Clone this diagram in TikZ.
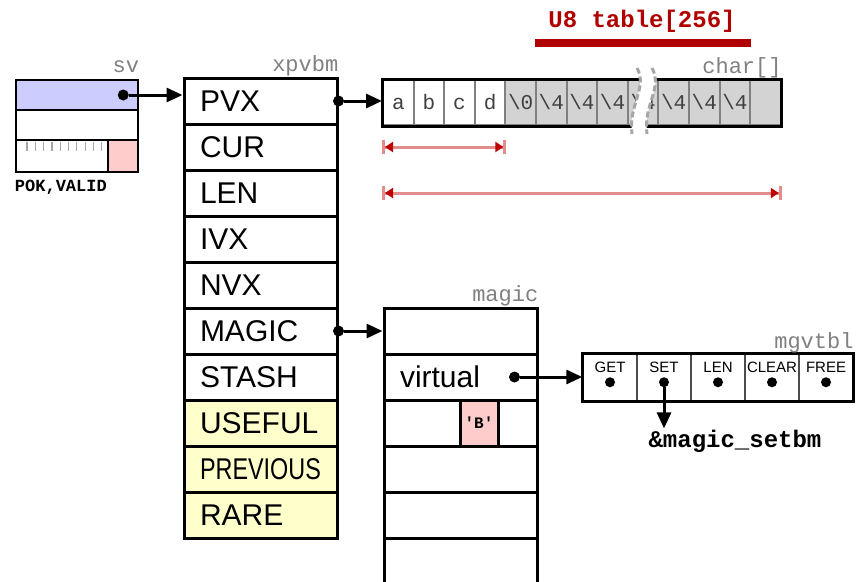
\documentclass[tikz,border=0pt]{standalone}
\usepackage{fontspec}
\setmainfont{Liberation Sans}
\newfontfamily\codefont{Liberation Mono}
\usetikzlibrary{arrows.meta}

\definecolor{svblue}{RGB}{204,204,255}
\definecolor{flagpink}{RGB}{255,204,204}
\definecolor{rareyellow}{RGB}{255,255,204}
\definecolor{cellgray}{RGB}{211,211,211}
\definecolor{dimred}{RGB}{226,140,140}
\definecolor{tipred}{RGB}{190,0,0}
\definecolor{u8red}{RGB}{176,0,0}
\definecolor{labgray}{RGB}{128,128,128}

\newcommand\narrow[1]{\scalebox{0.78}[1]{#1}}

\tikzset{
  row/.style={draw, line width=3pt, minimum width=153pt, minimum height=46pt,
    text width=121pt, inner xsep=16pt, inner ysep=0pt, align=left,
    font=\fontsize{30}{30}\selectfont},
  svrow/.style={draw, line width=2.5pt, minimum width=122pt, minimum height=30pt, inner sep=0pt},
  chcell/.style={draw=gray, line width=2pt, minimum width=30.6pt, minimum height=45pt,
    inner sep=0pt, text height=14pt, text depth=0pt, text=black!75,
    font=\codefont\fontsize{21}{21}\selectfont},
  vcell/.style={draw=black!70, line width=1.5pt, minimum width=54pt, minimum height=47pt, inner sep=0pt},
  vlab/.style={inner sep=0pt, font=\fontsize{15}{15}\selectfont},
  dot/.style={circle, fill, inner sep=0pt, minimum size=11pt},
  ptr/.style={line width=3pt, -{Triangle[length=16pt,width=14pt]}},
  tag/.style={anchor=base east, inner sep=0pt, text=labgray,
    font=\codefont\fontsize{22}{22}\selectfont},
  dim/.style={draw=dimred, line width=3pt,
    {Bar[width=14pt,color=dimred]Triangle[length=8pt,width=10pt,color=tipred]}-{Triangle[length=8pt,width=10pt,color=tipred]Bar[width=14pt,color=dimred]}},
  breakline/.style={draw=gray!70, line width=3pt, dash pattern=on 6pt off 3pt}
}

\begin{document}
\begin{tikzpicture}[x=1pt,y=-1pt]
\useasboundingbox (0,0) rectangle (856,581);

% the sv head
\node[svrow,fill=svblue] (sv1) at (77,95) {};
\node[svrow] (sv2) at (77,125) {};
\node[svrow,minimum height=32pt] (sv3) at (77,156) {};
\foreach \t in {0,...,9}{% flag bits
  \draw[labgray!70,line width=1.2pt] (27+\t*8.3,142) -- (27+\t*8.3,151);}
\node[svrow,fill=flagpink,minimum width=30pt,minimum height=32pt] (pok) at (123,156) {};
\node[tag] at ([yshift=6pt]sv1.north east) {sv};
\node[anchor=base west, inner sep=0pt, font=\codefont\bfseries\fontsize{17}{17}\selectfont]
  (flags) at ([yshift=-18pt]sv3.south west) {POK,VALID};

% the xpvbm body
\foreach \lab [count=\i] in {PVX,CUR,LEN,IVX,NVX,MAGIC,STASH}
  \node[row] (x\i) at (260.5,55+46*\i) {\lab};
\foreach \lab [count=\i from 8] in {USEFUL,\narrow{PREVIOUS},RARE}
  \node[row,fill=rareyellow] (x\i) at (260.5,55+46*\i) {\lab};
\node[tag] at ([yshift=5pt]x1.north east) {xpvbm};

% the string buffer
\foreach \t/\f [count=\i] in {a/white,b/white,c/white,d/white,\textbackslash0/cellgray,
    \textbackslash4/cellgray,\textbackslash4/cellgray,\textbackslash4/cellgray,\textbackslash4/cellgray,
    \textbackslash4/cellgray,\textbackslash4/cellgray,\textbackslash4/cellgray,/cellgray}
  \node[chcell,fill=\f] (c\i) at (367.7+30.6*\i,102.5) {\t};
\draw[line width=3pt] (c1.north west) rectangle (c13.south east);
\fill[white] (637,68) .. controls (648,88) and (628,105) .. (632,134)
  -- (647,134) .. controls (643,105) and (663,88) .. (652,68) -- cycle;
\draw[breakline] (637,68) .. controls (648,88) and (628,105) .. (632,134);
\draw[breakline] (652,68) .. controls (663,88) and (643,105) .. (647,134);
\node[tag] at ([yshift=6pt]c13.north east) {char[]};

\node[font=\codefont\bfseries\fontsize{24}{24}\selectfont, text=u8red, anchor=base]
  (u8) at (642,27) {U8 table[256]};
\draw[u8red,line width=8pt] (c6.west |- 0,43) -- (c12.east |- 0,43);

\draw[dim] (c1.west |- x2) -- (c4.east |- x2);
\draw[dim] (c1.west |- x3) -- (c13.east |- x3);

\node[dot] (svp) at ([xshift=-16pt]sv1.east) {};
\draw[ptr] (svp) -- (svp -| x1.west);
\node[dot] (pvp) at (x1.east) {};
\draw[ptr] (pvp) -- (pvp -| c1.west);

% the magic struct
\foreach \lab [count=\i] in {{},virtual,{},{},{},{}}
  \node[row] (m\i) at (460.5,285+46*\i) {\lab};
\node[draw, fill=flagpink, line width=3pt, minimum width=38pt, minimum height=46pt,
  inner sep=0pt, font=\codefont\bfseries\fontsize{16}{16}\selectfont] (bq) at (479,423) {'B'};
\node[tag] at ([yshift=5pt]m1.north east) {magic};
\node[dot] (mgp) at (x6.east) {};
\draw[ptr] (mgp) -- (m1.west);

% the vtable
\foreach \lab [count=\i] in {GET,SET,LEN,CLEAR,FREE}{
  \node[vcell] (g\i) at (556+54*\i,377.5) {};
  \node[vlab] at ([yshift=-14pt]g\i.north) {\lab};
  \node[dot,minimum size=10pt] (gd\i) at ([yshift=-29pt]g\i.north) {};}
\draw[line width=3pt] (g1.north west) rectangle (g5.south east);
\node[tag] at ([yshift=5pt]g5.north east) {mgvtbl};
\node[dot] (vtp) at ([xshift=-24pt]m2.east) {};
\draw[ptr] (vtp) -- (vtp -| g1.west);

\node[anchor=base, inner sep=1pt, font=\codefont\bfseries\fontsize{24}{24}\selectfont]
  (setbm) at (735,447) {\&magic\_setbm};
\draw[ptr] (gd2) -- (gd2 |- setbm.north);

\end{tikzpicture}
\end{document}
